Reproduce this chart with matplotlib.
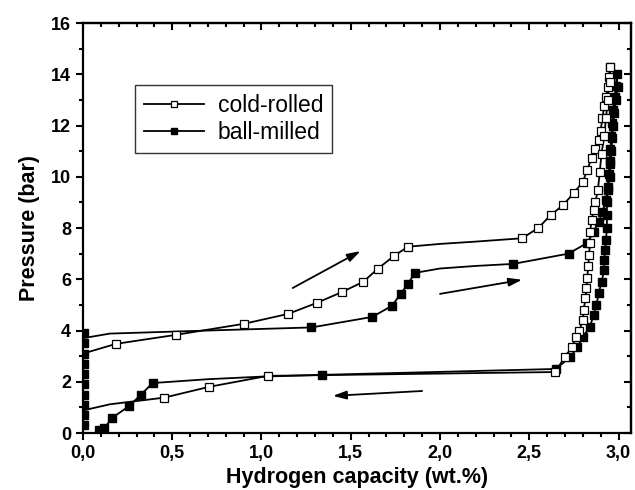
import matplotlib
matplotlib.use("Agg")
import matplotlib.pyplot as plt
from matplotlib.ticker import MultipleLocator, FuncFormatter

plt.rcParams['font.family'] = ['Liberation Sans', 'DejaVu Sans']

# cold-rolled, absorption (open squares)
cr_abs_x = [0.185, 0.52, 0.90, 1.15, 1.31, 1.45, 1.57, 1.65, 1.74, 1.82, 2.46, 2.55,
            2.62, 2.69, 2.75, 2.80, 2.825, 2.85, 2.87, 2.89, 2.90, 2.91, 2.92, 2.93,
            2.94, 2.945, 2.955]
cr_abs_y = [3.48, 3.83, 4.26, 4.65, 5.08, 5.5, 5.9, 6.4, 6.9, 7.27, 7.6, 8.0,
            8.5, 8.9, 9.37, 9.8, 10.27, 10.74, 11.1, 11.45, 11.8, 12.3, 12.75, 13.1,
            13.5, 13.9, 14.3]
cr_abs_start = (0.0, 3.1)
# fitted curve across the plateau gap
cr_abs_gap_x = [2.0, 2.2]
cr_abs_gap_y = [7.38, 7.47]

# cold-rolled, desorption
cr_des_x = [2.955, 2.95, 2.94, 2.93, 2.92, 2.905, 2.895, 2.885, 2.87, 2.86, 2.85, 2.84,
            2.84, 2.835, 2.83, 2.825, 2.82, 2.815, 2.805, 2.80, 2.78, 2.76, 2.74, 2.70,
            2.645, 1.035, 0.705, 0.455]
cr_des_y = [14.3, 13.7, 13.0, 12.3, 11.6, 10.9, 10.2, 9.5, 9.0, 8.7, 8.3, 7.85,
            7.4, 6.95, 6.5, 6.05, 5.66, 5.27, 4.8, 4.4, 4.0, 3.75, 3.36, 2.97,
            2.38, 2.23, 1.8, 1.38]
cr_des_end_x = [0.15, 0.0]
cr_des_end_y = [1.12, 0.88]

# ball-milled, absorption (filled squares)
bm_abs_x = [0.005, 0.005, 0.005, 0.005, 0.005, 0.005, 0.005, 0.005, 0.005, 0.005,
            1.28, 1.62, 1.73, 1.78, 1.82, 1.86, 2.41, 2.72, 2.825, 2.86, 2.89, 2.91,
            2.93, 2.94, 2.945, 2.95, 2.955, 2.96, 2.965, 2.97, 2.98, 2.985, 2.99]
bm_abs_y = [0.3, 0.7, 1.1, 1.5, 1.9, 2.3, 2.7, 3.1, 3.5, 3.9,
            4.12, 4.53, 4.96, 5.43, 5.82, 6.25, 6.6, 7.0, 7.42, 7.85, 8.25, 8.63,
            9.1, 9.6, 10.1, 10.6, 11.1, 11.6, 12.1, 12.6, 13.1, 13.55, 14.0]
bm_abs_line_x = [0.0, 0.15, 0.7]
bm_abs_line_y = [3.7, 3.88, 4.0]
bm_abs_gap_x = [2.0, 2.2]
bm_abs_gap_y = [6.42, 6.52]

# ball-milled, desorption
bm_des_x = [2.995, 2.985, 2.975, 2.97, 2.965, 2.96, 2.955, 2.95, 2.94, 2.935, 2.935,
            2.935, 2.93, 2.926, 2.92, 2.92, 2.905, 2.89, 2.876, 2.86, 2.84, 2.80,
            2.77, 2.73, 2.65, 1.34, 0.39, 0.325, 0.26, 0.165, 0.12, 0.09]
bm_des_y = [13.5, 13.0, 12.5, 12.0, 11.5, 11.0, 10.5, 10.0, 9.5, 9.0, 8.5,
            8.0, 7.55, 7.15, 6.75, 6.37, 5.9, 5.47, 5.0, 4.6, 4.14, 3.75,
            3.36, 2.97, 2.5, 2.27, 1.95, 1.5, 1.06, 0.6, 0.2, 0.1]
bm_des_gap_x = [1.0, 0.7]
bm_des_gap_y = [2.2, 2.1]

# arrows: (start, end)
arrows = [((1.175, 5.66), (1.555, 7.1)),
          ((2.0, 5.43), (2.46, 5.98)),
          ((1.9, 1.64), (1.40, 1.45))]

fig = plt.figure(figsize=(6.35, 4.9), dpi=100)
ax = fig.add_axes([0.1307, 0.1163, 0.863, 0.8367])

lw = 1.3
ms = 6
# fitted lines
ax.plot([cr_abs_start[0]] + cr_abs_x[:10] + cr_abs_gap_x + cr_abs_x[10:],
        [cr_abs_start[1]] + cr_abs_y[:10] + cr_abs_gap_y + cr_abs_y[10:],
        '-', color='black', lw=lw)
ax.plot(cr_des_x + cr_des_end_x, cr_des_y + cr_des_end_y, '-', color='black', lw=lw)
ax.plot(bm_abs_line_x + bm_abs_x[10:16] + bm_abs_gap_x + bm_abs_x[16:],
        bm_abs_line_y + bm_abs_y[10:16] + bm_abs_gap_y + bm_abs_y[16:],
        '-', color='black', lw=lw)
ax.plot([bm_abs_x[-1]] + bm_des_x[:26] + bm_des_gap_x + bm_des_x[26:],
        [bm_abs_y[-1]] + bm_des_y[:26] + bm_des_gap_y + bm_des_y[26:],
        '-', color='black', lw=lw)

# measured points
ax.plot(bm_abs_x, bm_abs_y, 's', color='black', ms=ms, mec='black', zorder=3)
ax.plot(bm_des_x, bm_des_y, 's', color='black', ms=ms, mec='black', zorder=3)
ax.plot(cr_abs_x, cr_abs_y, 's', mfc='white', mec='black', ms=ms, mew=0.9, zorder=4)
ax.plot(cr_des_x, cr_des_y, 's', mfc='white', mec='black', ms=ms, mew=0.9, zorder=4)

# legend handles
h1, = ax.plot([], [], '-s', color='black', mfc='white', mec='black', ms=5, mew=0.9, lw=lw)
h2, = ax.plot([], [], '-s', color='black', mfc='black', mec='black', ms=5, lw=lw)
leg = ax.legend([h1, h2], ['cold-rolled', 'ball-milled'], loc='upper left',
                bbox_to_anchor=(0.095, 0.849), fontsize=16.5, frameon=True,
                fancybox=False, edgecolor='black', handlelength=2.6,
                borderpad=0.4, labelspacing=0.15, handletextpad=0.6, borderaxespad=0)
leg.get_frame().set_linewidth(1.0)

for (x0, y0), (x1, y1) in arrows:
    ax.annotate('', xy=(x1, y1), xytext=(x0, y0),
                arrowprops=dict(arrowstyle='-|>,head_length=0.8,head_width=0.25',
                                color='black', lw=1.3, shrinkA=0, shrinkB=0))

ax.set_xlim(0, 3.07)
ax.set_ylim(0, 16)
ax.xaxis.set_major_locator(MultipleLocator(0.5))
ax.xaxis.set_minor_locator(MultipleLocator(0.1))
ax.yaxis.set_major_locator(MultipleLocator(2))
ax.yaxis.set_minor_locator(MultipleLocator(1))
ax.xaxis.set_major_formatter(FuncFormatter(lambda v, p: ('%.1f' % v).replace('.', ',')))

for s in ax.spines.values():
    s.set_linewidth(1.6)
ax.tick_params(which='both', direction='out', width=1.5, labelsize=13)
ax.tick_params(which='major', length=5)
ax.tick_params(which='minor', length=3)
for lab in ax.get_xticklabels() + ax.get_yticklabels():
    lab.set_fontweight('bold')

# mirrored ticks, inward, on top and right
axt = ax.secondary_xaxis('top')
axt.xaxis.set_major_locator(MultipleLocator(0.5))
axt.xaxis.set_minor_locator(MultipleLocator(0.1))
axt.tick_params(which='both', direction='in', width=1.5, labeltop=False)
axt.tick_params(which='major', length=5)
axt.tick_params(which='minor', length=3)
axr = ax.secondary_yaxis('right')
axr.yaxis.set_major_locator(MultipleLocator(2))
axr.yaxis.set_minor_locator(MultipleLocator(1))
axr.tick_params(which='both', direction='in', width=1.5, labelright=False)
axr.tick_params(which='major', length=5)
axr.tick_params(which='minor', length=3)
axt.spines['top'].set_linewidth(1.6)
axr.spines['right'].set_linewidth(1.6)

ax.set_xlabel('Hydrogen capacity (wt.%)', fontsize=15.5, fontweight='bold', labelpad=4)
ax.set_ylabel('Pressure (bar)', fontsize=15.5, fontweight='bold', labelpad=8)

fig.savefig('out.png', dpi=100)
